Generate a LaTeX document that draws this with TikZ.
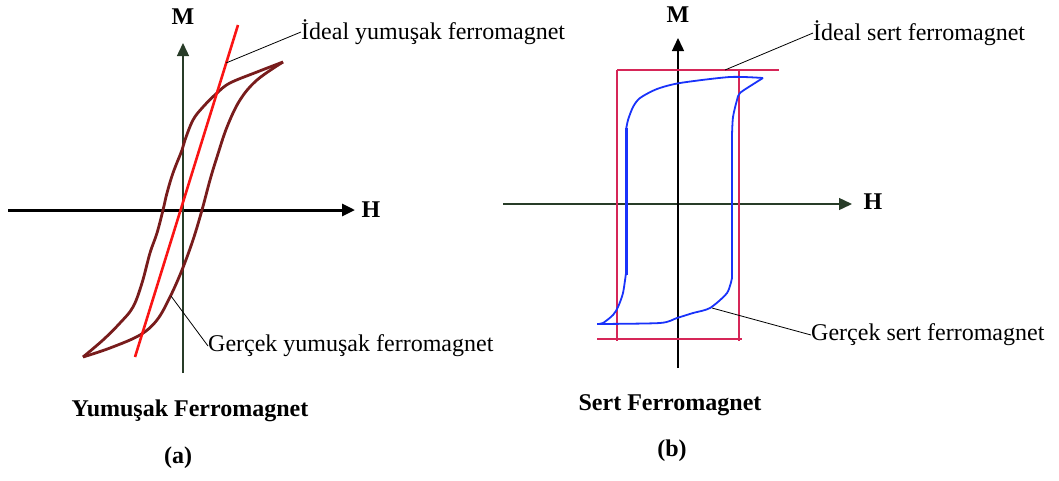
\documentclass[tikz,border=0pt]{standalone}
\usepackage{fontspec}
\setmainfont{Liberation Serif}
\usetikzlibrary{arrows.meta}
\definecolor{loopbrown}{RGB}{120,28,28}
\definecolor{idealred}{RGB}{250,20,20}
\definecolor{rectred}{RGB}{214,38,88}
\definecolor{loopblue}{RGB}{25,50,250}
\definecolor{axisgreen}{RGB}{40,60,40}
\tikzset{
  lbl/.style={font=\fontsize{24}{28}\selectfont, inner sep=0pt, anchor=west},
  blbl/.style={font=\fontsize{24}{28}\selectfont\bfseries, inner sep=0pt},
  leader/.style={draw=black, line width=0.8pt},
  axtip/.style={-{Triangle[length=13pt,width=12pt]}},
}
\begin{document}
\begin{tikzpicture}[x=1pt,y=-1pt]
\useasboundingbox (0,0) rectangle (1059,480);
% ---------- (a) soft ----------
\draw[line width=3pt, axtip] (8,210) -- (355,210) coordinate (aH);
\draw[line width=1.4pt, axisgreen, axtip] (183,373) -- (183,43) coordinate (aM);
\node[blbl] (aHl) at (371,210) {H};
\node[blbl] (aMl) at (183,17) {M};
% real loop
\draw[loopbrown, line width=2.8pt, line join=round] plot[smooth, tension=0.6] coordinates {(83,357) (110,348) (140,335) (157,320) (170,297) (182,270) (193,240) (202,210) (210,180) (217,157) (227,127) (240,100) (257,80) (283,62)};
\draw[loopbrown, line width=2.8pt, line join=round] plot[smooth, tension=0.6] coordinates {(283,62) (257,72) (230,83) (217,93) (203,107) (193,120) (185,140) (182,150) (173,173) (167,193) (163,210) (157,233) (150,253) (142,283) (133,307) (120,323) (103,340) (83,357)};
% ideal line
\draw[idealred, line width=2.6pt] (135,357) -- (238,25);
\coordinate (aIdeal) at (226,63);
\coordinate (aReal) at (171,296);
\node[lbl] (aIdealT) at (301,32) {İdeal yumuşak ferromagnet};
\node[lbl] (aRealT) at (208,346) {Gerçek yumuşak ferromagnet};
\draw[leader] (aIdeal) -- (aIdealT.west);
\draw[leader] (aReal) -- (aRealT.west);
\node[blbl] (aTitle) at (190,411) {Yumuşak Ferromagnet};
\node[blbl] (aTag) at (178,458) {(a)};
% ---------- (b) hard ----------
\draw[line width=1.4pt, axisgreen, axtip] (503,204) -- (852,204) coordinate (bH);
\draw[line width=1.4pt, axtip] (678,368) -- (678,38) coordinate (bM);
\node[blbl] (bHl) at (873,202) {H};
\node[blbl] (bMl) at (678,15) {M};
% ideal rectangle
\draw[rectred, line width=2.3pt] (617,70) -- (779,70);
\draw[rectred, line width=2.3pt] (597,339) -- (742,339);
\draw[rectred, line width=2.3pt] (617,70) -- (617,341);
\draw[rectred, line width=2.3pt] (739,70) -- (739,341);
% real loop
\draw[loopblue, line width=1.8pt, line join=round] plot[smooth, tension=0.45] coordinates {(763,78) (730,77) (680,83) (657,89) (640,98) (633,107) (628,120) (626,130)} -- (626,273) plot[smooth, tension=0.45] coordinates {(626,273) (623,293) (618,307) (613,315) (603,323) (597,324)};
\draw[loopblue, line width=3pt] (626,128) -- (626,275);
\draw[loopblue, line width=1.8pt, line join=round] plot[smooth, tension=0.45] coordinates {(597,324) (660,323) (677,318) (693,313) (710,308) (727,293) (732,278)} -- (732,135) plot[smooth, tension=0.45] coordinates {(732,135) (733,117) (737,100) (740,93) (755,83) (763,78)};
\coordinate (bIdeal) at (725,70);
\coordinate (bReal) at (712,308);
\node[lbl] (bIdealT) at (813,33) {İdeal sert ferromagnet};
\node[lbl] (bRealT) at (811,335) {Gerçek sert ferromagnet};
\draw[leader] (bIdeal) -- (bIdealT.west);
\draw[leader] (bReal) -- (bRealT.west);
\node[blbl] (bTitle) at (670,405) {Sert Ferromagnet};
\node[blbl] (bTag) at (672,451) {(b)};
\end{tikzpicture}
\end{document}
